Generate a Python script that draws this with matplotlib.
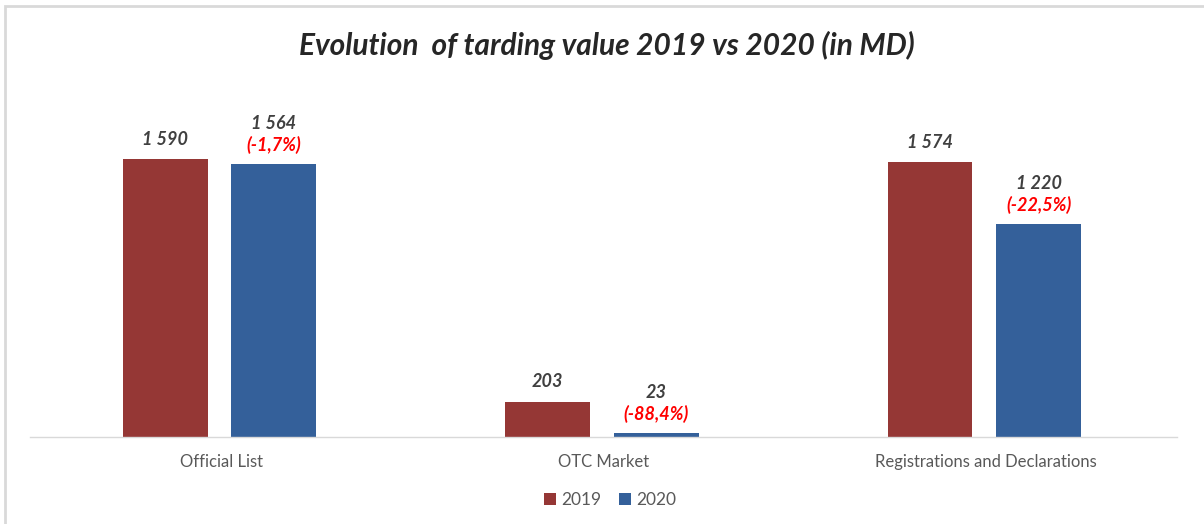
import matplotlib.pyplot as plt
import matplotlib.patches as patches
import numpy as np

# Data
categories = ['Official List', 'OTC Market', 'Registrations and Declarations']
values_2019 = [1590, 203, 1574]
values_2020 = [1564, 23, 1220]
changes = ['(-1,7%)', '(-88,4%)', '(-22,5%)']

plt.rcParams['font.family'] = ['Lato', 'DejaVu Sans']

fig = plt.figure(figsize=(12.04, 5.24), dpi=100)
ax = fig.add_axes([30/1204, 1 - 437/524, 1147/1204, 357/524])

x = np.arange(len(categories))
w = 0.222
off = 0.142
b1 = ax.bar(x - off - 0.004, values_2019, w, color='#953735', label='2019')
b2 = ax.bar(x + off - 0.004, values_2020, w, color='#34609A', label='2020')

def fmt(v):
    return f'{v:,}'.replace(',', ' ')

for rect, v in zip(b1, values_2019):
    ax.annotate(fmt(v), (rect.get_x() + rect.get_width()/2, rect.get_height()),
                xytext=(0, 8), textcoords='offset points', ha='center', va='bottom',
                fontsize=13, fontweight='bold', fontstyle='italic', color='#404040')

for rect, v, c in zip(b2, values_2020, changes):
    xc = rect.get_x() + rect.get_width()/2
    ax.annotate(c, (xc, rect.get_height()),
                xytext=(0, 7), textcoords='offset points', ha='center', va='bottom',
                fontsize=13, fontweight='bold', fontstyle='italic', color='#FF0000')
    ax.annotate(fmt(v), (xc, rect.get_height()),
                xytext=(0, 23), textcoords='offset points', ha='center', va='bottom',
                fontsize=13, fontweight='bold', fontstyle='italic', color='#404040')

ax.set_xlim(-0.5, 2.5)
ax.set_ylim(0, 2042)
ax.set_xticks(x)
ax.set_xticklabels(categories, fontsize=12, color='#595959')
ax.tick_params(axis='x', length=0, pad=12)
ax.set_yticks([])
for s in ['top', 'left', 'right']:
    ax.spines[s].set_visible(False)
ax.spines['bottom'].set_color('#D9D9D9')
ax.spines['bottom'].set_linewidth(1)

fig.text(607/1204, 1 - 45/524, 'Evolution  of tarding value 2019 vs 2020 (in MD)',
         ha='center', va='center', fontsize=21.5, fontweight='bold',
         fontstyle='italic', color='#262626')

fig.legend(loc='center', bbox_to_anchor=(610/1204, 1 - 500/524), ncol=2, frameon=False,
           fontsize=12.5, labelcolor='#595959', handlelength=0.7, handleheight=0.7,
           handletextpad=0.3, columnspacing=1.0)

# chart border
fig.patches.append(patches.Rectangle((5/1204, -0.5), 2, (1 - 6/524) + 0.5,
                                     transform=fig.transFigure, fill=False,
                                     edgecolor='#D9D9D9', linewidth=2))

fig.savefig('out.png', dpi=100)
